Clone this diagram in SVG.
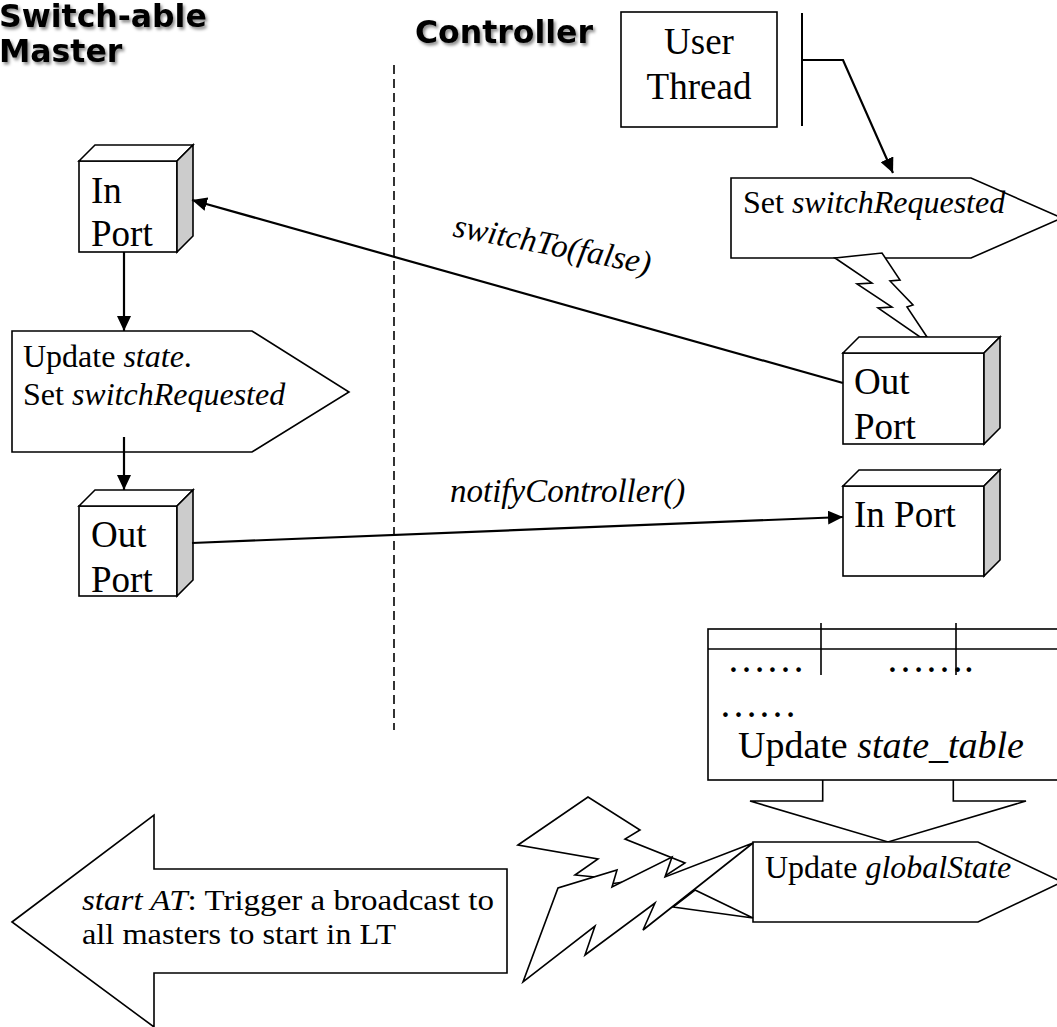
<svg xmlns="http://www.w3.org/2000/svg" width="1057" height="1027" viewBox="0 0 1057 1027">
<style>
.t{font-family:"Liberation Serif","Times New Roman",serif;fill:#000}
.i{font-style:italic}
.h{font-family:"DejaVu Sans",Verdana,sans-serif;font-weight:bold;font-size:31.5px;fill:#000}
.s{fill:#fff;stroke:#000;stroke-width:1.6;stroke-linejoin:miter}
.g{fill:#cccccc;stroke:#000;stroke-width:1.6}
.c{fill:none;stroke:#000;stroke-width:2.2}
.ln{fill:none;stroke:#000;stroke-width:1.6}
</style>
<defs>
<marker id="ah" markerWidth="16" markerHeight="14" refX="15" refY="7" orient="auto" markerUnits="userSpaceOnUse"><path d="M0,0 L15,7 L0,14 z" fill="#000"/></marker>
<filter id="sh" x="-10%" y="-20%" width="130%" height="160%"><feDropShadow dx="2" dy="2.5" stdDeviation="1.6" flood-color="#000" flood-opacity="0.45"/></filter>
</defs>
<rect width="1057" height="1027" fill="#fff"/>

<g id="headers">
<text class="h" x="-1" y="27" filter="url(#sh)">Switch-able</text>
<text class="h" x="-1" y="62" filter="url(#sh)">Master</text>
<text class="h" x="415" y="43" filter="url(#sh)">Controller</text>
</g>

<line id="divider" x1="394" y1="65" x2="394" y2="730" stroke="#000" stroke-width="1.6" stroke-dasharray="9,5"/>

<g id="user-thread">
<rect class="s" x="621" y="12" width="156" height="115"/>
<text class="t" x="699" y="54" font-size="37" text-anchor="middle">User</text>
<text class="t" x="699" y="99" font-size="37" text-anchor="middle">Thread</text>
<line x1="802" y1="13" x2="802" y2="126" stroke="#000" stroke-width="2"/>
</g>

<g id="set-switch-requested">
<polygon class="s" points="731,178 971,178 1062,218 971,258 731,258"/>
<text class="t" x="743" y="213" font-size="32">Set <tspan class="i">switchRequested</tspan></text>
</g>

<g id="bolt-top">
<polygon class="s" points="835,258 882,253 900,280 890,281 913,305 907,307 927,337 920,337 878,308 892,307 857,284 872,283"/>
</g>

<g id="master-in-port">
<rect class="s" x="79" y="161" width="98" height="91"/>
<polygon class="s" points="79,161 95,145 193,145 177,161"/>
<polygon class="g" points="177,161 193,145 193,236 177,252"/>
<text class="t" x="91" y="203" font-size="37">In</text>
<text class="t" x="91" y="246" font-size="37">Port</text>
</g>

<g id="update-state">
<polygon class="s" points="12,331 252,331 349,392 252,452 12,452"/>
<text class="t" x="23" y="367" font-size="32">Update <tspan class="i">state</tspan>.</text>
<text class="t" x="23" y="405" font-size="32">Set <tspan class="i">switchRequested</tspan></text>
</g>

<g id="master-out-port">
<rect class="s" x="79" y="506" width="98" height="90"/>
<polygon class="s" points="79,506 95,490 193,490 177,506"/>
<polygon class="g" points="177,506 193,490 193,580 177,596"/>
<text class="t" x="91" y="547" font-size="37">Out</text>
<text class="t" x="91" y="592" font-size="37">Port</text>
</g>

<g id="controller-out-port">
<rect class="s" x="843" y="353" width="141" height="91"/>
<polygon class="s" points="843,353 859,337 1000,337 984,353"/>
<polygon class="g" points="984,353 1000,337 1000,428 984,444"/>
<text class="t" x="854" y="394" font-size="37">Out</text>
<text class="t" x="854" y="439" font-size="37">Port</text>
</g>

<g id="controller-in-port">
<rect class="s" x="843" y="486" width="141" height="90"/>
<polygon class="s" points="843,486 859,470 1000,470 984,486"/>
<polygon class="g" points="984,486 1000,470 1000,560 984,576"/>
<text class="t" x="854" y="527" font-size="37">In Port</text>
</g>

<g id="state-table">
<polyline class="s" points="822.7,780 822.7,801 750,801 888,842 1026,801 953.3,801 953.3,780"/>
<rect class="s" x="708" y="629" width="370" height="151"/>
<line class="ln" x1="708" y1="649" x2="1057" y2="649"/>
<line class="ln" x1="821" y1="623" x2="821" y2="675"/>
<line class="ln" x1="956" y1="623" x2="956" y2="675"/>
<text class="t" x="727" y="672" font-size="39">……</text>
<text class="t" x="886" y="672" font-size="39">…….</text>
<text class="t" x="719" y="717" font-size="39">……</text>
<text class="t" x="738" y="758" font-size="38">Update <tspan class="i">state_table</tspan></text>
</g>

<g id="update-global-state">
<polygon class="s" points="753,842 978,842 1062,882 978,922 753,922"/>
<text class="t" x="765" y="878" font-size="32">Update <tspan class="i">globalState</tspan></text>
</g>

<g id="bolts-bottom">
<polygon class="s" points="518,845 588,797 640,830 625,839 685,863 665,876 610,884 595,877 575,875 598,859"/>
<polygon class="s" points="753,843 665,877 672,857 612,887 617,870 558,888 523,982 595,926 585,955 655,903 643,930"/>
<polygon class="s" points="673,907 753,918 695,890"/>
</g>

<g id="start-at">
<polygon class="s" points="12,922 154,815 154,869 507,869 507,973 154,973 154,1027"/>
<text class="t" x="82" y="910" font-size="29" textLength="412" lengthAdjust="spacingAndGlyphs"><tspan class="i">start AT</tspan>: Trigger a broadcast to</text>
<text class="t" x="82" y="944" font-size="29" textLength="314" lengthAdjust="spacingAndGlyphs">all masters to start in LT</text>
</g>

<g id="connectors">
<polyline class="c" points="802,60 843,60 893,173" marker-end="url(#ah)"/>
<line class="c" x1="124" y1="252" x2="124" y2="331" marker-end="url(#ah)"/>
<line class="c" x1="124" y1="437" x2="124" y2="490" marker-end="url(#ah)"/>
<line class="c" x1="843" y1="383" x2="192" y2="200" marker-end="url(#ah)"/>
<line class="c" x1="192" y1="543" x2="843" y2="517" marker-end="url(#ah)"/>
<text class="t i" font-size="33" transform="translate(452,236) rotate(11)">switchTo(false)</text>
<text class="t i" x="450" y="502" font-size="33">notifyController()</text>
</g>
</svg>
